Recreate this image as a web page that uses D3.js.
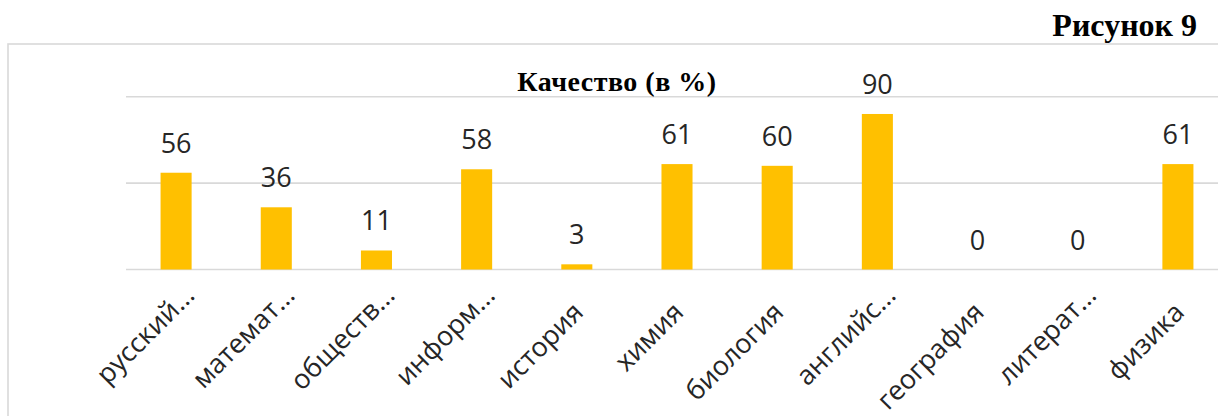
<!DOCTYPE html>
<html>
<head>
<meta charset="utf-8">
<script src="https://cdn.jsdelivr.net/npm/d3@7"></script>
<style>
  html, body { margin: 0; padding: 0; background: #fff; overflow: hidden; }
</style>
</head>
<body>
<div id="chart"></div>
<script>
// chart data
const subjects = ['русский…', 'математ…', 'обществ…', 'информ…', 'история', 'химия',
  'биология', 'английс…', 'география', 'литерат…', 'физика'];
const quality = [56, 36, 11, 58, 3, 61, 60, 90, 0, 0, 61];
const gridTicks = [0, 50, 100];
const chartTitle = 'Качество (в %)';
const figureCaption = 'Рисунок 9';

const width = 1218;
const height = 416;

const svg = d3.select('#chart')
  .append('svg')
  .attr('width', width)
  .attr('height', height);

// outer frame of the chart area (runs off the right and bottom edge)
svg.append('rect')
  .attr('x', 8)
  .attr('y', 44)
  .attr('width', 1300)
  .attr('height', 500)
  .attr('fill', 'none')
  .attr('stroke', '#d9d9d9')
  .attr('stroke-width', 1.6);

// figure caption
svg.append('text')
  .attr('x', 1197)
  .attr('y', 36)
  .attr('text-anchor', 'end')
  .attr('font-family', '"Liberation Serif", "Times New Roman", serif')
  .attr('font-weight', 'bold')
  .attr('font-size', 32)
  .text(figureCaption);

// scales
const x = d3.scaleBand()
  .domain(subjects)
  .range([126, 1228])
  .paddingInner(0.69)
  .paddingOuter(0.345);

const y = d3.scaleLinear()
  .domain([0, 100])
  .range([269.5, 96.7]);

// gridlines
svg.append('g')
  .selectAll('line')
  .data(gridTicks)
  .join('line')
  .attr('x1', 126)
  .attr('x2', 1228)
  .attr('y1', (d) => y(d))
  .attr('y2', (d) => y(d))
  .attr('stroke', '#d9d9d9')
  .attr('stroke-width', 1.6);

// chart title (sits on top of the upper gridline)
svg.append('text')
  .attr('x', 617)
  .attr('y', 91)
  .attr('text-anchor', 'middle')
  .attr('font-family', '"Liberation Serif", "Times New Roman", serif')
  .attr('font-weight', 'bold')
  .attr('font-size', 28)
  .attr('letter-spacing', 0.5)
  .text(chartTitle);

// bars
svg.append('g')
  .selectAll('rect')
  .data(quality)
  .join('rect')
  .attr('x', (d, i) => x(subjects[i]))
  .attr('y', (d) => y(d))
  .attr('width', x.bandwidth())
  .attr('height', (d) => y(0) - y(d))
  .attr('fill', '#ffc000');

// value labels
svg.append('g')
  .selectAll('text')
  .data(quality)
  .join('text')
  .attr('x', (d, i) => x(subjects[i]) + x.bandwidth() / 2)
  .attr('y', (d) => y(d) - 20)
  .attr('text-anchor', 'middle')
  .attr('font-family', '"Open Sans", sans-serif')
  .attr('font-size', 27)
  .attr('fill', '#262626')
  .text((d) => d);

// category labels, rotated -45deg; truncated ones end a bit further out
svg.append('g')
  .selectAll('text')
  .data(subjects)
  .join('text')
  .attr('transform', (d) => {
    const cx = x(d) + x.bandwidth() / 2;
    const cut = d.endsWith('…');
    const ax = cx + (cut ? 20 : 8);
    const ay = cut ? 297 : 314;
    return `translate(${ax},${ay}) rotate(-45)`;
  })
  .attr('text-anchor', 'end')
  .attr('font-family', '"Open Sans", sans-serif')
  .attr('font-size', 27)
  .attr('fill', '#262626')
  .text((d) => d);
</script>
</body>
</html>
